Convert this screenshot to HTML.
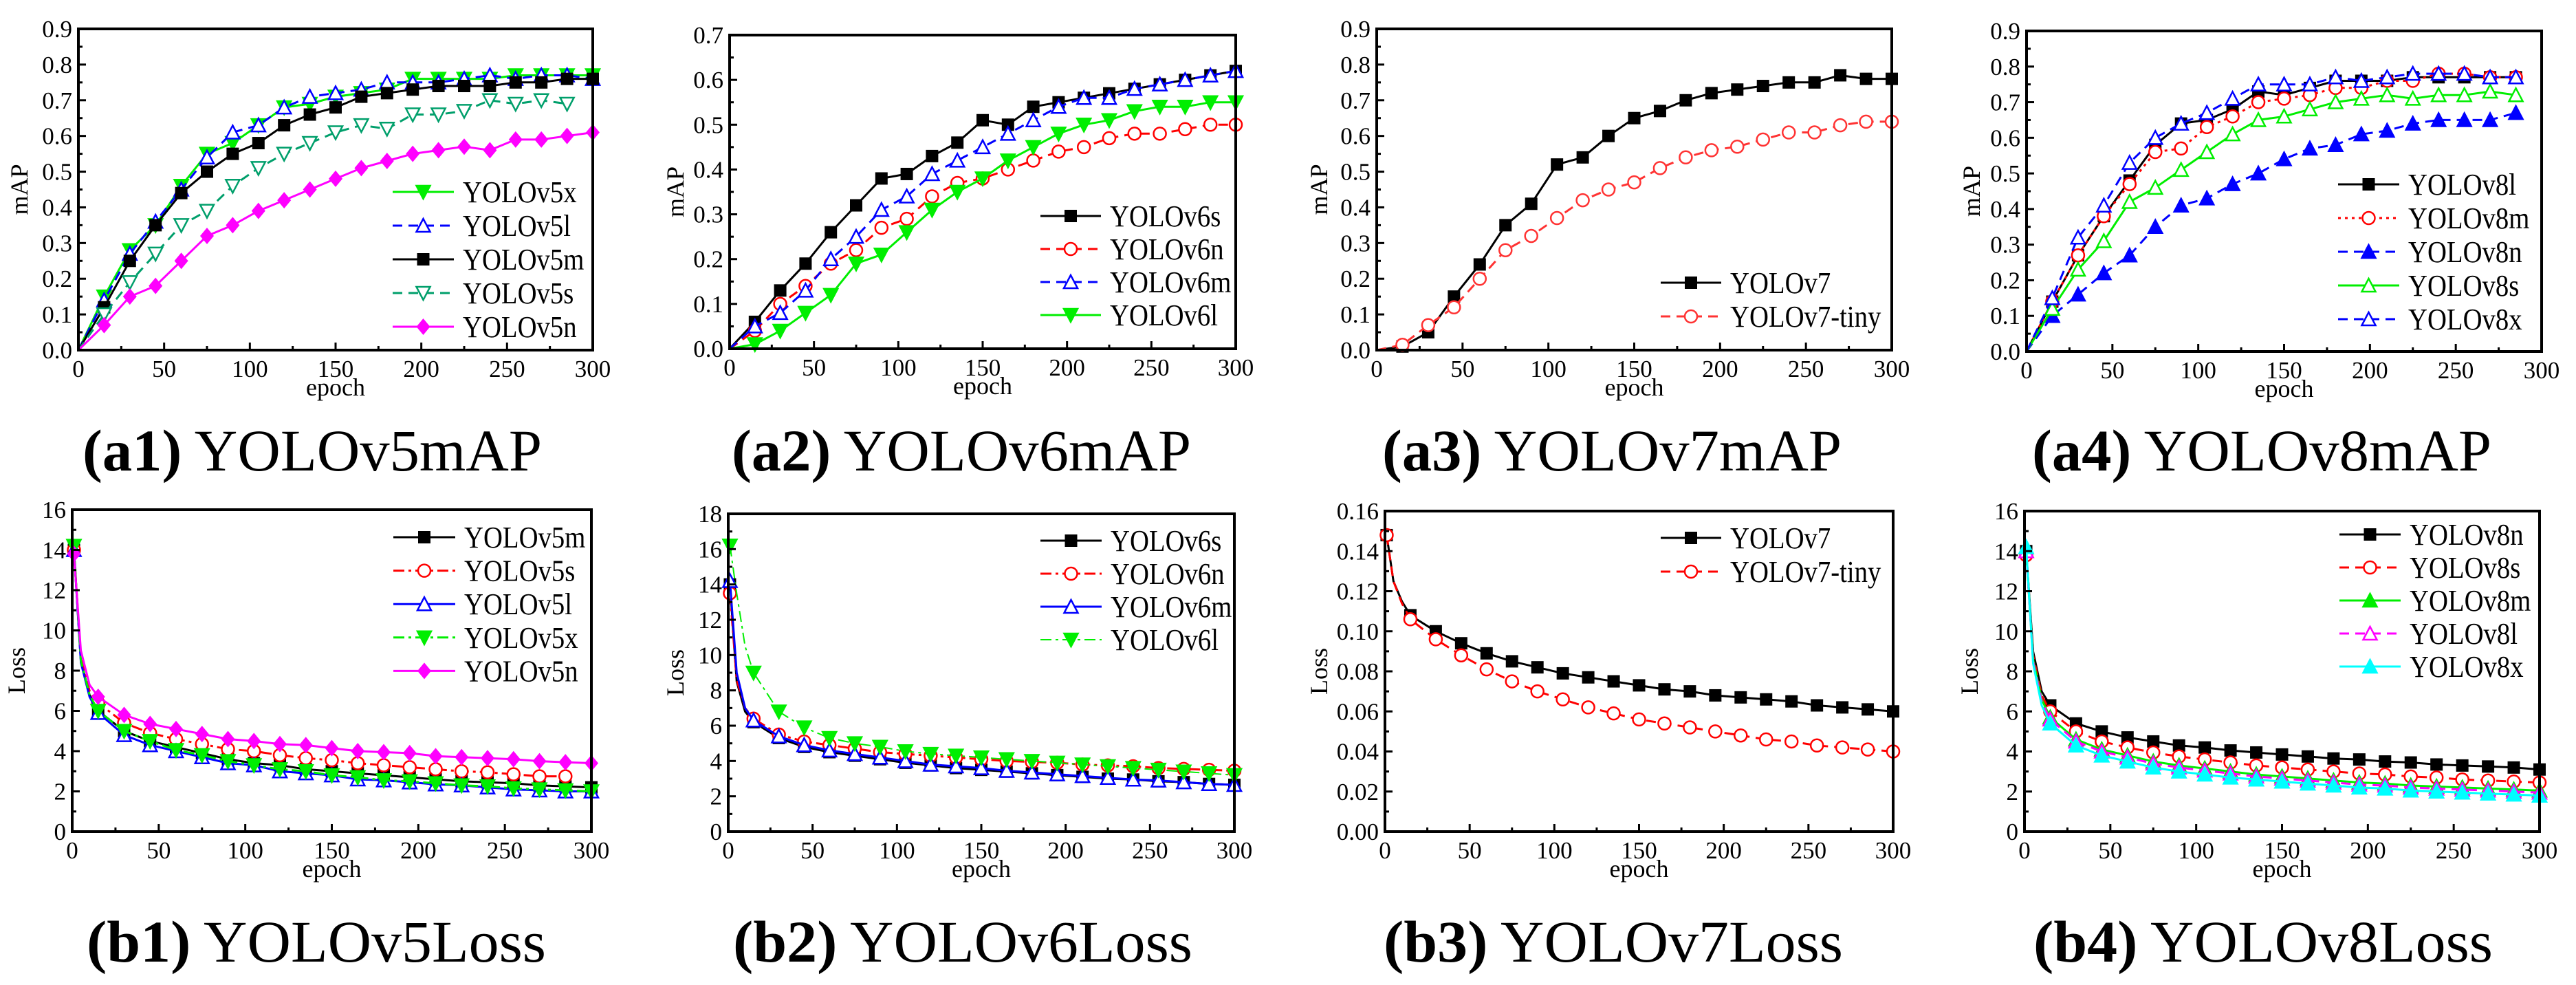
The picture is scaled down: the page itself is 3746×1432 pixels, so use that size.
<!DOCTYPE html>
<html><head><meta charset="utf-8"><style>
html,body{margin:0;padding:0;background:#fff;}
svg{display:block;font-family:"Liberation Serif",serif;}
</style></head><body>
<svg id="fig" width="3746" height="1432" viewBox="0 0 3746 1432" xmlns="http://www.w3.org/2000/svg"></svg>
<script>
// ---- data ----
const mapEpochs = [0,15,30,45,60,75,90,105,120,135,150,165,180,195,210,225,240,255,270,285,300];
const lossEpochs = [1,5,10,15,30,45,60,75,90,105,120,135,150,165,180,195,210,225,240,255,270,285,300];
const xTickLabels = ["0","50","100","150","200","250","300"];

const v5x_map = [0,0.15,0.28,0.35,0.46,0.55,0.58,0.63,0.68,0.69,0.71,0.72,0.73,0.76,0.76,0.76,0.76,0.77,0.77,0.77,0.77];
const v5l_map = [0,0.14,0.27,0.36,0.45,0.54,0.61,0.63,0.68,0.71,0.72,0.73,0.75,0.75,0.75,0.76,0.77,0.76,0.77,0.77,0.76];
const v5m_map = [0,0.12,0.25,0.35,0.44,0.50,0.55,0.58,0.63,0.66,0.68,0.71,0.72,0.73,0.74,0.74,0.74,0.75,0.75,0.76,0.76];
const v5s_map = [0,0.10,0.19,0.27,0.35,0.39,0.46,0.51,0.55,0.58,0.61,0.63,0.62,0.66,0.66,0.67,0.70,0.69,0.70,0.69,0.69];
const v5n_map = [0,0.07,0.15,0.18,0.25,0.32,0.35,0.39,0.42,0.45,0.48,0.51,0.53,0.55,0.56,0.57,0.56,0.59,0.59,0.60,0.61];

const v6s_map = [0,0.06,0.13,0.19,0.26,0.32,0.38,0.39,0.43,0.46,0.51,0.50,0.54,0.55,0.56,0.57,0.58,0.59,0.60,0.61,0.62];
const v6n_map = [0,0.04,0.10,0.14,0.19,0.22,0.27,0.29,0.34,0.37,0.38,0.40,0.42,0.44,0.45,0.47,0.48,0.48,0.49,0.50,0.50];
const v6m_map = [0,0.05,0.08,0.13,0.20,0.25,0.31,0.34,0.39,0.42,0.45,0.48,0.51,0.54,0.56,0.56,0.58,0.59,0.60,0.61,0.62];
const v6l_map = [0,0.01,0.04,0.08,0.12,0.19,0.21,0.26,0.31,0.35,0.38,0.42,0.45,0.48,0.50,0.51,0.53,0.54,0.54,0.55,0.55];

const v7_map = [0,0.01,0.05,0.15,0.24,0.35,0.41,0.52,0.54,0.60,0.65,0.67,0.70,0.72,0.73,0.74,0.75,0.75,0.77,0.76,0.76];
const v7t_map = [0,0.015,0.07,0.12,0.20,0.28,0.32,0.37,0.42,0.45,0.47,0.51,0.54,0.56,0.57,0.59,0.61,0.61,0.63,0.64,0.64];

const v8l_map = [0,0.14,0.27,0.38,0.48,0.58,0.64,0.65,0.68,0.73,0.72,0.74,0.76,0.76,0.76,0.77,0.77,0.77,0.77,0.77,0.77];
const v8m_map = [0,0.14,0.27,0.38,0.47,0.56,0.57,0.63,0.66,0.70,0.71,0.72,0.74,0.74,0.76,0.76,0.78,0.78,0.77,0.77,0.77];
const v8n_map = [0,0.10,0.16,0.22,0.27,0.35,0.41,0.43,0.47,0.50,0.54,0.57,0.58,0.61,0.62,0.64,0.65,0.65,0.65,0.67,0.67];
const v8s_map = [0,0.12,0.23,0.31,0.42,0.46,0.51,0.56,0.61,0.65,0.66,0.68,0.70,0.71,0.72,0.71,0.72,0.72,0.73,0.72,0.72];
const v8x_map = [0,0.15,0.32,0.41,0.53,0.60,0.64,0.67,0.71,0.75,0.75,0.75,0.77,0.76,0.77,0.78,0.78,0.78,0.77,0.77,0.77];

const v5m_loss = [14,8.5,6.8,6.0,5.0,4.5,4.2,3.9,3.6,3.4,3.3,3.1,3.0,2.9,2.8,2.7,2.6,2.5,2.45,2.4,2.3,2.25,2.2];
const v5s_loss = [14,8.7,7.0,6.4,5.4,4.9,4.6,4.35,4.1,4.0,3.8,3.65,3.55,3.4,3.3,3.2,3.1,3.0,2.95,2.85,2.75,2.75,2.7];
const v5l_loss = [14,8.4,6.7,5.9,4.8,4.3,4.0,3.7,3.4,3.3,3.0,2.9,2.8,2.6,2.55,2.45,2.35,2.3,2.2,2.1,2.05,2.0,2.0];
const v5x_loss = [14.2,8.5,6.8,6.0,5.0,4.5,4.05,3.8,3.5,3.3,3.1,3.0,2.8,2.7,2.55,2.5,2.4,2.3,2.25,2.15,2.1,2.05,2.0];
const v5n_loss = [13.8,9.0,7.3,6.7,5.8,5.35,5.1,4.85,4.6,4.5,4.35,4.3,4.15,4.0,3.95,3.9,3.75,3.7,3.65,3.6,3.5,3.45,3.4];

const v6s_loss = [14,8.5,6.8,6.2,5.3,4.8,4.5,4.3,4.1,3.9,3.75,3.6,3.5,3.4,3.3,3.2,3.1,3.0,2.95,2.85,2.8,2.7,2.65];
const v6n_loss = [13.5,8.6,7.0,6.4,5.5,5.1,4.9,4.7,4.5,4.4,4.3,4.2,4.1,4.0,3.95,3.9,3.8,3.75,3.7,3.6,3.55,3.5,3.45];
const v6m_loss = [14.2,9.0,7.0,6.3,5.4,4.9,4.6,4.4,4.2,4.0,3.8,3.7,3.6,3.45,3.35,3.25,3.15,3.05,2.95,2.9,2.8,2.7,2.65];
const v6l_loss = [16.2,13.5,10.5,9.0,6.8,5.9,5.3,5.0,4.8,4.55,4.4,4.3,4.2,4.1,4.0,3.9,3.8,3.7,3.6,3.5,3.4,3.3,3.2];

const v7_loss = [0.148,0.125,0.115,0.108,0.1,0.094,0.089,0.085,0.082,0.079,0.077,0.075,0.073,0.071,0.070,0.068,0.067,0.066,0.065,0.063,0.062,0.061,0.060];
const v7t_loss = [0.148,0.125,0.114,0.106,0.096,0.088,0.081,0.075,0.070,0.066,0.062,0.059,0.056,0.054,0.052,0.050,0.048,0.046,0.045,0.043,0.042,0.041,0.040];

const v8n_loss = [14,9,7,6.3,5.4,5.0,4.7,4.5,4.3,4.2,4.05,3.95,3.85,3.75,3.65,3.6,3.5,3.45,3.35,3.3,3.25,3.2,3.1];
const v8s_loss = [13.8,8.8,6.8,6.0,5.0,4.5,4.2,3.95,3.75,3.6,3.45,3.3,3.2,3.1,3.0,2.9,2.85,2.75,2.7,2.6,2.55,2.5,2.45];
const v8m_loss = [14,8.6,6.6,5.7,4.6,4.1,3.8,3.5,3.3,3.15,3.0,2.85,2.75,2.65,2.55,2.45,2.4,2.3,2.25,2.2,2.15,2.1,2.05];
const v8l_loss = [14,8.5,6.5,5.6,4.5,4.0,3.7,3.4,3.2,3.05,2.9,2.75,2.65,2.55,2.45,2.35,2.3,2.2,2.15,2.1,2.05,2.0,1.95];
const v8x_loss = [14.2,8.4,6.3,5.4,4.3,3.8,3.5,3.2,3.0,2.85,2.7,2.6,2.5,2.4,2.3,2.2,2.15,2.05,2.0,1.95,1.9,1.85,1.8];

// ---- drawing ----
const NS = "http://www.w3.org/2000/svg";
const svg = document.getElementById('fig');
function mk(tag, attrs, parent){const e=document.createElementNS(NS,tag);for(const k in attrs)e.setAttribute(k,attrs[k]);(parent||svg).appendChild(e);return e;}
const GREEN="#00ee00", BLUE="#0000ff", RED="#ff0000", MAG="#ff00ff", TEAL="#009f6b", CYAN="#00ffff";
const DASH="14,9", DASHDOT="16,6,4,6", DOT="4,6";

function marker(g, type, x, y, color){
  const s=9; let el;
  const fill = type.startsWith('o') ? '#fff' : color;
  if(type==='sq') el=mk('rect',{x:x-s,y:y-s,width:2*s,height:2*s,fill:color},g);
  else if(type==='oc') el=mk('circle',{cx:x,cy:y,r:s,fill:'#fff',stroke:color,'stroke-width':2.5},g);
  else if(type==='ot'||type==='ft') el=mk('polygon',{points:`${x},${y-s-1} ${x-s-1},${y+s} ${x+s+1},${y+s}`,fill:fill,stroke:color,'stroke-width':2.5},g);
  else if(type==='od'||type==='fd') el=mk('polygon',{points:`${x},${y+s+1} ${x-s-1},${y-s} ${x+s+1},${y-s}`,fill:fill,stroke:color,'stroke-width':2.5},g);
  else if(type==='dm') el=mk('polygon',{points:`${x},${y-s-3} ${x-s-1},${y} ${x},${y+s+3} ${x+s+1},${y}`,fill:color},g);
  
  
}

function chart(c){
  const g=mk('g',{});
  
  
  const L=c.box[0],T=c.box[1],R=c.box[2],B=c.box[3];
  const xs=v=>L+(v-0)/300*(R-L);
  const ys=v=>B-(v-c.yMin)/(c.yMax-c.yMin)*(B-T);
  c.series.forEach(s=>{
    const sg=mk('g',{},g);
    
    
    const n=Math.min(s.data.length,c.x.length);
    let pts=[];
    for(let i=0;i<n;i++){ if(c.x[i]<=s.maxX) pts.push(xs(c.x[i]).toFixed(1)+','+ys(s.data[i]).toFixed(1)); }
    const pl=mk('polyline',{points:pts.join(' '),fill:'none',stroke:s.color,'stroke-width':s.w||3,'stroke-dasharray':s.dash||'none','stroke-linejoin':'round'},sg);
    
    
    for(let i=0;i<n;i++){ if(c.x[i]>0 && c.x[i]<=s.maxX && (c.x[i]%15===0 || c.x[i]===1)) marker(sg,s.mk,xs(c.x[i]),ys(s.data[i]),s.color); }
  });
  const fr=mk('rect',{x:L,y:T,width:R-L,height:B-T,fill:'none',stroke:'#000','stroke-width':4},g);
  
  
  const nT=Math.round((c.yMax-c.yMin)/c.yStep);
  for(let i=0;i<=nT;i++){
    const v=c.yMin+i*c.yStep, y=ys(v);
    mk('line',{x1:L,x2:L+11,y1:y,y2:y,stroke:'#000','stroke-width':3},g);
    if(i<nT){const ym=ys(v+c.yStep/2);mk('line',{x1:L,x2:L+6,y1:ym,y2:ym,stroke:'#000','stroke-width':3},g);}
    const t=mk('text',{x:L-9,y:y+12,'font-size':35,'text-anchor':'end'},g);
    t.textContent=v.toFixed(c.dec);
    
    
  }
  xTickLabels.forEach((lab,i)=>{
    const v=i*50,x=xs(v);
    mk('line',{x1:x,x2:x,y1:B,y2:B-11,stroke:'#000','stroke-width':3},g);
    if(i<6){const xm=xs(v+25);mk('line',{x1:xm,x2:xm,y1:B,y2:B-6,stroke:'#000','stroke-width':3},g);}
    const t=mk('text',{x:x,y:B+39,'font-size':35,'text-anchor':'middle'},g);
    t.textContent=lab;
    
    
  });
  const xt=mk('text',{x:(L+R)/2,y:B+66,'font-size':36,'text-anchor':'middle'},g);
  xt.textContent='epoch';
  
  
  const yt=mk('text',{x:0,y:0,'font-size':36,'text-anchor':'middle',transform:`translate(${c.ytx},${(T+B)/2}) rotate(-90)`},g);
  yt.textContent=c.ytitle;
  
  
  c.series.forEach((s,i)=>{
    const y=c.leg[2]+i*c.leg[3];
    const lg=mk('g',{},g);
    
    
    mk('line',{x1:c.leg[0],x2:c.leg[1],y1:y,y2:y,stroke:s.color,'stroke-width':s.w||3,'stroke-dasharray':s.dash||'none'},lg);
    marker(lg,s.mk,(c.leg[0]+c.leg[1])/2,y,s.color);
    const t=mk('text',{x:0,y:0,'font-size':44,transform:`translate(${c.leg[1]+13},${y+15}) scale(0.88,1)`},lg);
    t.textContent=s.label;
  });
  const cap=mk('text',{x:c.cap[0],y:c.cap[1],'font-size':86,textLength:668,lengthAdjust:'spacingAndGlyphs'},g);
  
  
  const b=mk('tspan',{'font-weight':'bold'},cap); b.textContent=c.capB;
  const n2=mk('tspan',{},cap); n2.textContent=' '+c.capT;
}

const mapCfg={yMin:0,dec:1,ytitle:'mAP',x:mapEpochs};
chart(Object.assign({},mapCfg,{name:'chart-a1-yolov5-map',box:[114,42,862,509],yMax:0.9,yStep:0.1,ytx:40,
  leg:[571,660,279,49],cap:[120,684],capB:'(a1)',capT:'YOLOv5mAP',
  series:[{label:'YOLOv5x',data:v5x_map,color:GREEN,mk:'fd',maxX:300},
          {label:'YOLOv5l',data:v5l_map,color:BLUE,mk:'ot',dash:DASH,maxX:300},
          {label:'YOLOv5m',data:v5m_map,color:'#000',mk:'sq',maxX:300},
          {label:'YOLOv5s',data:v5s_map,color:TEAL,mk:'od',dash:DASH,maxX:285},
          {label:'YOLOv5n',data:v5n_map,color:MAG,mk:'dm',maxX:300}]}));
chart(Object.assign({},mapCfg,{name:'chart-a2-yolov6-map',box:[1061,51,1797,507],yMax:0.7,yStep:0.1,ytx:994,
  leg:[1513,1601,314,48],cap:[1064,684],capB:'(a2)',capT:'YOLOv6mAP',
  series:[{label:'YOLOv6s',data:v6s_map,color:'#000',mk:'sq',maxX:300},
          {label:'YOLOv6n',data:v6n_map,color:RED,mk:'oc',dash:DASH,maxX:300},
          {label:'YOLOv6m',data:v6m_map,color:BLUE,mk:'ot',dash:DASH,maxX:300},
          {label:'YOLOv6l',data:v6l_map,color:GREEN,mk:'fd',maxX:300}]}));
chart(Object.assign({},mapCfg,{name:'chart-a3-yolov7-map',box:[2002,42,2751,509],yMax:0.9,yStep:0.1,ytx:1930,
  leg:[2415,2503,411,49],cap:[2010,684],capB:'(a3)',capT:'YOLOv7mAP',
  series:[{label:'YOLOv7',data:v7_map,color:'#000',mk:'sq',maxX:300},
          {label:'YOLOv7-tiny',data:v7t_map,color:'#ff3333',mk:'oc',dash:DASH,maxX:300}]}));
chart(Object.assign({},mapCfg,{name:'chart-a4-yolov8-map',box:[2947,45,3696,511],yMax:0.9,yStep:0.1,ytx:2879,
  leg:[3400,3489,268,49],cap:[2955,684],capB:'(a4)',capT:'YOLOv8mAP',
  series:[{label:'YOLOv8l',data:v8l_map,color:'#000',mk:'sq',maxX:295},
          {label:'YOLOv8m',data:v8m_map,color:RED,mk:'oc',dash:DOT,maxX:295},
          {label:'YOLOv8n',data:v8n_map,color:BLUE,mk:'ft',dash:DASH,maxX:295},
          {label:'YOLOv8s',data:v8s_map,color:GREEN,mk:'ot',maxX:295},
          {label:'YOLOv8x',data:v8x_map,color:BLUE,mk:'ot',dash:DASH,maxX:295}]}));

const lossCfg={yMin:0,ytitle:'Loss',x:lossEpochs};
chart(Object.assign({},lossCfg,{name:'chart-b1-yolov5-loss',box:[105,741,860,1209],yMax:16,yStep:2,dec:0,ytx:36,
  leg:[572,662,781,48.6],cap:[126,1398],capB:'(b1)',capT:'YOLOv5Loss',
  series:[{label:'YOLOv5m',data:v5m_loss,color:'#000',mk:'sq',maxX:300},
          {label:'YOLOv5s',data:v5s_loss,color:RED,mk:'oc',dash:DASHDOT,maxX:285},
          {label:'YOLOv5l',data:v5l_loss,color:BLUE,mk:'ot',maxX:300},
          {label:'YOLOv5x',data:v5x_loss,color:GREEN,mk:'fd',dash:DASHDOT,maxX:300},
          {label:'YOLOv5n',data:v5n_loss,color:MAG,mk:'dm',maxX:300}]}));
chart(Object.assign({},lossCfg,{name:'chart-b2-yolov6-loss',box:[1059,747,1795,1209],yMax:18,yStep:2,dec:0,ytx:994,
  leg:[1513,1602,786,48],cap:[1066,1398],capB:'(b2)',capT:'YOLOv6Loss',
  series:[{label:'YOLOv6s',data:v6s_loss,color:'#000',mk:'sq',maxX:300},
          {label:'YOLOv6n',data:v6n_loss,color:RED,mk:'oc',dash:DASHDOT,maxX:300},
          {label:'YOLOv6m',data:v6m_loss,color:BLUE,mk:'ot',maxX:300},
          {label:'YOLOv6l',data:v6l_loss,color:GREEN,mk:'fd',dash:DASHDOT,w:2,maxX:300}]}));
chart(Object.assign({},lossCfg,{name:'chart-b3-yolov7-loss',box:[2014,743,2753,1209],yMax:0.16,yStep:0.02,dec:2,ytx:1930,
  leg:[2415,2503,782,49],cap:[2012,1398],capB:'(b3)',capT:'YOLOv7Loss',
  series:[{label:'YOLOv7',data:v7_loss,color:'#000',mk:'sq',maxX:300},
          {label:'YOLOv7-tiny',data:v7t_loss,color:RED,mk:'oc',dash:DASH,maxX:300}]}));
chart(Object.assign({},lossCfg,{name:'chart-b4-yolov8-loss',box:[2944,743,3693,1209],yMax:16,yStep:2,dec:0,ytx:2876,
  leg:[3402,3491,777,48],cap:[2957,1398],capB:'(b4)',capT:'YOLOv8Loss',
  series:[{label:'YOLOv8n',data:v8n_loss,color:'#000',mk:'sq',maxX:300},
          {label:'YOLOv8s',data:v8s_loss,color:RED,mk:'oc',dash:DASH,maxX:300},
          {label:'YOLOv8m',data:v8m_loss,color:GREEN,mk:'ft',maxX:300},
          {label:'YOLOv8l',data:v8l_loss,color:MAG,mk:'ot',dash:DASH,maxX:300},
          {label:'YOLOv8x',data:v8x_loss,color:CYAN,mk:'ft',maxX:300}]}));
</script>
</body></html>
